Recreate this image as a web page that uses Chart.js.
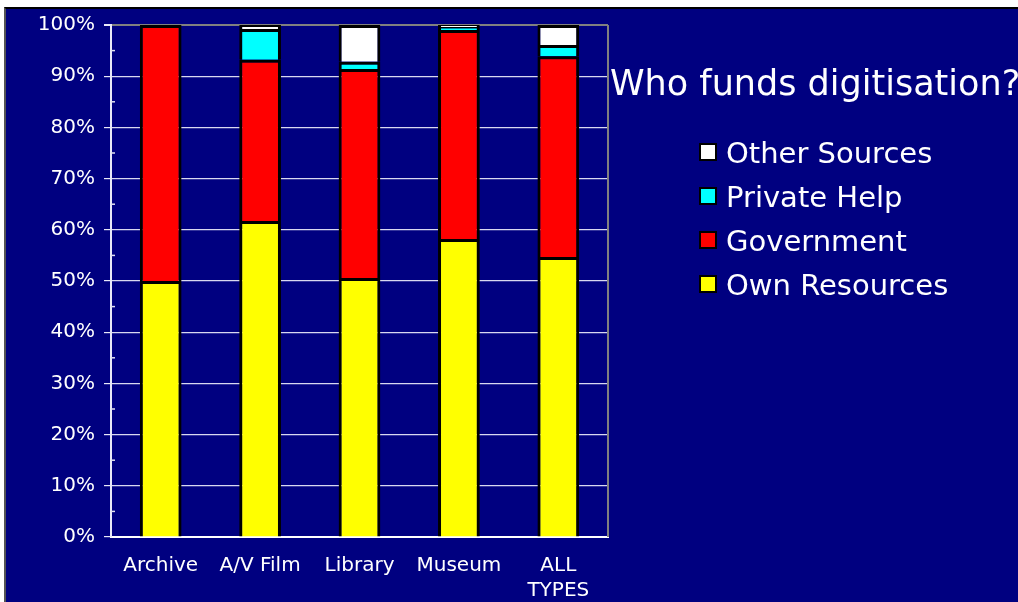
<!DOCTYPE html>
<html>
<head>
<meta charset="utf-8">
<script src="https://cdn.jsdelivr.net/npm/chart.js@4.4.1/dist/chart.umd.min.js"></script>
<style>
  html, body { margin: 0; padding: 0; background: #fff; width: 1018px; height: 602px; overflow: hidden; }
  #frame { position: absolute; left: 4px; top: 7px; right: 0; bottom: 0; background: #000080;
           border-top: 2px solid #000; border-left: 2px solid #555; }
  #chart { position: absolute; left: 0; top: 0; }
  #title { position: absolute; left: 610px; top: 66px; color: #fff; font: 35px "DejaVu Sans", Verdana, sans-serif;
           line-height: 35px; white-space: nowrap; }
  #legend { position: absolute; left: 699px; top: 138px; color: #fff; font: 29px "DejaVu Sans", Verdana, sans-serif; }
  .item { height: 44px; line-height: 30px; white-space: nowrap; }
  .box { display: inline-block; width: 14px; height: 14px; border: 2px solid #000; vertical-align: middle;
         margin-right: 9px; position: relative; top: -3px; }
</style>
</head>
<body>
<div id="frame"></div>
<canvas id="chart" width="1018" height="602"></canvas>
<div id="title">Who funds digitisation?</div>
<div id="legend"></div>
<script>
const categories = ["Archive", "A/V Film", "Library", "Museum", ["ALL", "TYPES"]];
const ownResources = [50.0, 61.7, 50.6, 58.2, 54.7];
const government   = [50.0, 31.5, 40.8, 40.8, 39.2];
const privateHelp  = [0.0, 6.0, 1.4, 0.6, 2.2];
const otherSources = [0.0, 0.8, 7.2, 0.4, 3.9];

const seriesNames  = ["Own Resources", "Government", "Private Help", "Other Sources"];
const seriesColors = ["#ffff00", "#ff0000", "#00ffff", "#ffffff"];
const seriesData   = [ownResources, government, privateHelp, otherSources];

Chart.defaults.font.family = '"DejaVu Sans", Verdana, sans-serif';
Chart.defaults.color = "#fff";

// minor ticks (inside the axis) halfway between the labelled ticks, plus the grey right edge
const frameExtras = {
    id: "frameExtras",
    afterDraw(chart) {
        const { ctx, chartArea: a } = chart;
        const y = chart.scales.y;
        ctx.save();
        ctx.strokeStyle = "#808080";
        ctx.lineWidth = 2;
        ctx.beginPath();
        ctx.moveTo(a.right, a.top);
        ctx.lineTo(a.right, a.bottom);
        ctx.stroke();
        ctx.strokeStyle = "#e0e0f0";
        ctx.lineWidth = 1.5;
        const t = y.ticks;
        for (let i = 0; i < t.length - 1; i++) {
            const py = y.getPixelForValue((t[i].value + t[i + 1].value) / 2);
            ctx.beginPath();
            ctx.moveTo(a.left, py);
            ctx.lineTo(a.left + 4, py);
            ctx.stroke();
        }
        ctx.restore();
    }
};

new Chart(document.getElementById("chart"), {
    type: "bar",
    data: {
        labels: categories,
        datasets: seriesNames.map((name, i) => ({
            label: name,
            data: seriesData[i],
            backgroundColor: seriesColors[i],
            borderColor: "#000",
            borderWidth: 3,
            barPercentage: 0.42,
            categoryPercentage: 1
        }))
    },
    options: {
        responsive: false,
        devicePixelRatio: 1,
        animation: false,
        layout: { padding: { left: 0, top: 25, right: 410, bottom: 0 } },
        plugins: { legend: { display: false }, tooltip: { enabled: false } },
        scales: {
            x: {
                stacked: true,
                grid: { display: false },
                border: { color: "#fff", width: 2 },
                ticks: { color: "#fff", font: { size: 20, lineHeight: 1.25 }, padding: 8, maxRotation: 0, autoSkip: false },
                afterFit: s => { s.height = 65; }
            },
            y: {
                stacked: true,
                min: 0, max: 100,
                grid: {
                    color: c => (c.tick && c.tick.value === 100) ? "#808080" : "#d8d8f0",
                    lineWidth: c => (c.tick && c.tick.value === 100) ? 2 : 1.2,
                    tickColor: "#e8e8f8",
                    tickLength: 7
                },
                border: { color: "#e8e8f8", width: 2 },
                ticks: { stepSize: 10, color: "#fff", font: { size: 20 }, padding: 9, callback: v => v + "%" },
                afterFit: s => { s.width = 111; }
            }
        }
    },
    plugins: [frameExtras]
});

const legend = document.getElementById("legend");
for (let i = seriesNames.length - 1; i >= 0; i--) {
    const row = document.createElement("div");
    row.className = "item";
    row.innerHTML = `<span class="box" style="background:${seriesColors[i]}"></span>${seriesNames[i]}`;
    legend.appendChild(row);
}
</script>
</body>
</html>
